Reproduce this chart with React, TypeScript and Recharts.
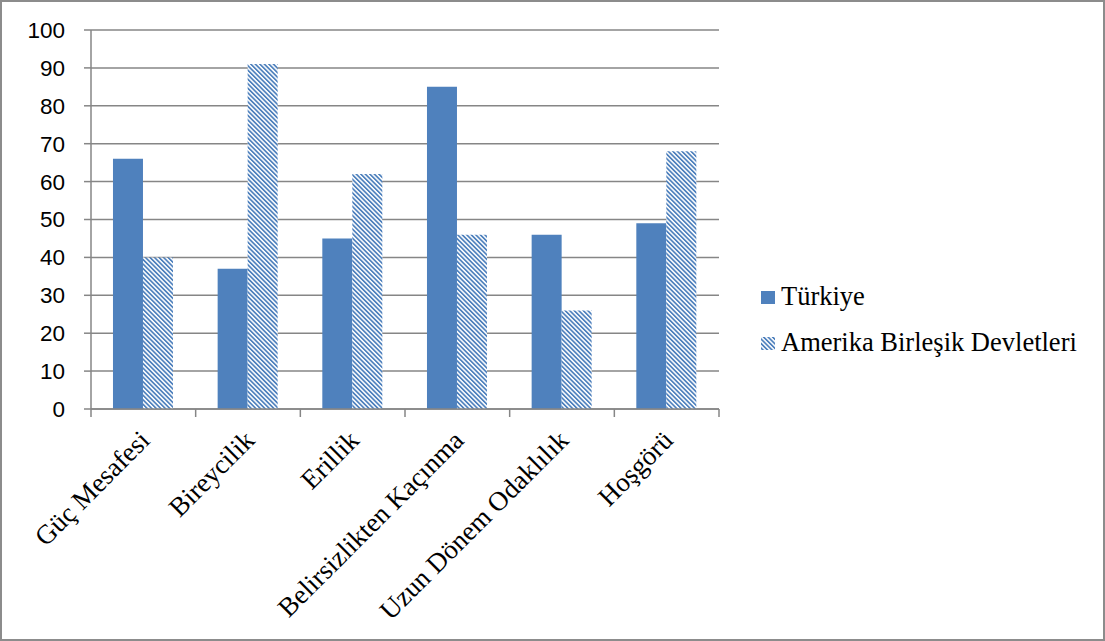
import { BarChart, Bar, XAxis, YAxis, CartesianGrid } from 'recharts';

const categories = [
  'Güç Mesafesi',
  'Bireycilik',
  'Erillik',
  'Belirsizlikten Kaçınma',
  'Uzun Dönem Odaklılık',
  'Hoşgörü',
];
const turkiye = [66, 37, 45, 85, 46, 49];
const abd = [40, 91, 62, 46, 26, 68];
const yTicks = [0, 10, 20, 30, 40, 50, 60, 70, 80, 90, 100];
const seriesNames = ['Türkiye', 'Amerika Birleşik Devletleri'];

const data = categories.map((name, i) => ({ name, turkiye: turkiye[i], abd: abd[i] }));

const W = 1105;
const H = 641;
const margin = { top: 30, right: 386, left: 31, bottom: 32 };
const plotWidth = W - margin.left - margin.right - 60;
const band = plotWidth / categories.length;

const BLUE = '#4F81BD';
const GRID = '#868686';
const SERIF = "'Liberation Serif', 'Times New Roman', serif";

const CategoryTick = (props: any) => {
  const { x, y, payload, index } = props;
  const ax = x + 8;
  const ay = y + 25;
  return (
    <g>
      <line x1={x - band / 2} y1={y - 8} x2={x - band / 2} y2={y} stroke={GRID} strokeWidth={1.5} />
      {index === categories.length - 1 && (
        <line x1={x + band / 2} y1={y - 8} x2={x + band / 2} y2={y} stroke={GRID} strokeWidth={1.5} />
      )}
      <text
        x={ax}
        y={ay}
        textAnchor="end"
        transform={`rotate(-45, ${ax}, ${ay})`}
        fontFamily={SERIF}
        fontSize={27}
        fill="#000"
      >
        {payload.value}
      </text>
    </g>
  );
};

export default function App() {
  return (
    <div
      style={{
        position: 'absolute',
        left: 0,
        top: 0,
        width: W,
        height: H,
        background: '#fff',
        boxSizing: 'border-box',
        border: '2px solid #8c8c8c',
      }}
    >
      <div style={{ position: 'absolute', left: -2, top: -2 }}>
        <BarChart width={W} height={H} data={data} margin={margin} barCategoryGap="21%" barGap={0}>
          <defs>
            <pattern
              id="hatch"
              patternUnits="userSpaceOnUse"
              width={3.2}
              height={3.2}
              patternTransform="rotate(-45)"
            >
              <rect width={3.2} height={3.2} fill="#fff" />
              <rect width={1.7} height={3.2} fill={BLUE} />
            </pattern>
          </defs>
          <CartesianGrid vertical={false} stroke={GRID} strokeWidth={1.5} />
          <XAxis
            dataKey="name"
            axisLine={{ stroke: GRID, strokeWidth: 1.5 }}
            tickLine={false}
            tick={<CategoryTick />}
            interval={0}
            height={200}
          />
          <YAxis
            domain={[0, 100]}
            ticks={yTicks}
            interval={0}
            width={60}
            axisLine={{ stroke: GRID, strokeWidth: 1.5 }}
            tickLine={{ stroke: GRID, strokeWidth: 1.5 }}
            tickSize={7}
            tickMargin={19}
            tick={{ fill: '#000', fontSize: 22.5, fontFamily: "'Liberation Sans', Arial, sans-serif" }}
          />
          <Bar dataKey="turkiye" name={seriesNames[0]} fill={BLUE} isAnimationActive={false} />
          <Bar dataKey="abd" name={seriesNames[1]} fill="url(#hatch)" isAnimationActive={false} />
        </BarChart>
      </div>
      <svg
        width={W}
        height={H}
        style={{ position: 'absolute', left: -2, top: -2, pointerEvents: 'none' }}
      >
        {seriesNames.map((label, i) => (
          <g key={label}>
            <rect x={761} y={291 + i * 46} width={14} height={13} fill={i === 0 ? BLUE : 'url(#hatch)'} />
            <text x={781} y={305 + i * 46} fontFamily={SERIF} fontSize={26.5} fill="#000">
              {label}
            </text>
          </g>
        ))}
      </svg>
    </div>
  );
}
